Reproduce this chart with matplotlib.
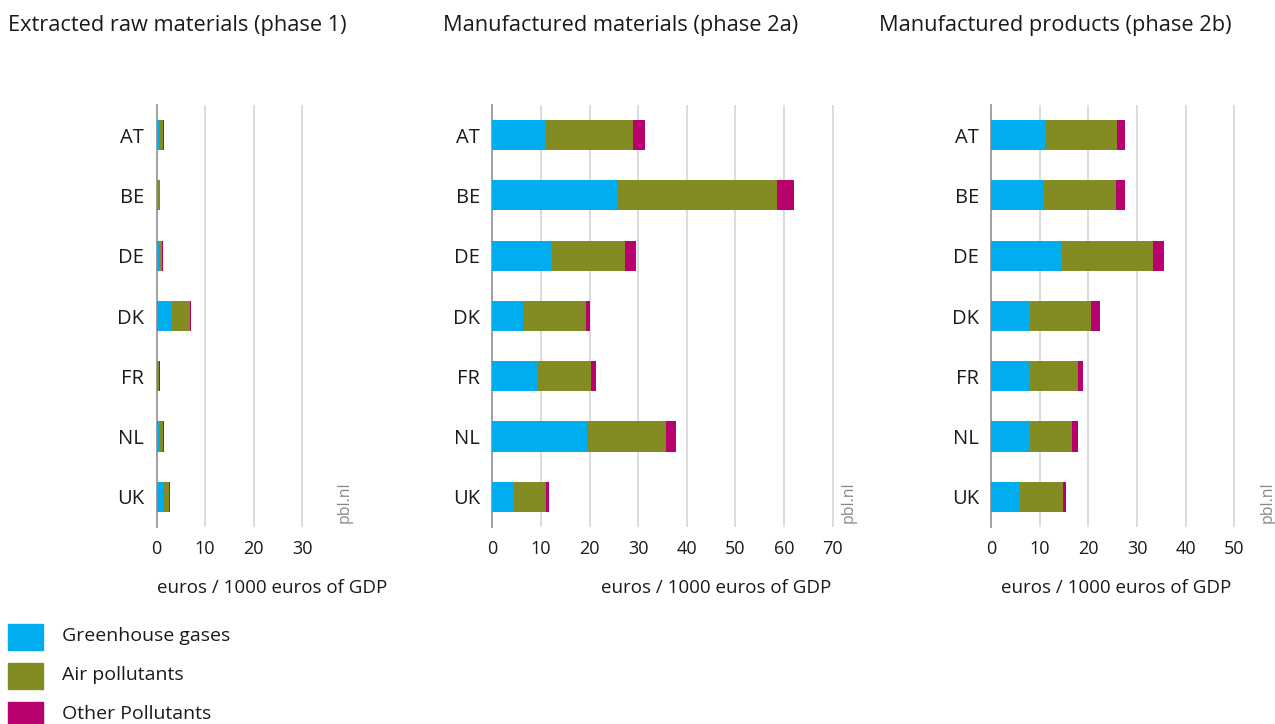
import numpy as np
import matplotlib.pyplot as plt
from matplotlib.patches import Rectangle

plt.rcParams['font.family'] = ['Open Sans', 'DejaVu Sans']

landen = ['AT', 'BE', 'DE', 'DK', 'FR', 'NL', 'UK']

# fase 1: gewonnen grondstoffen
ghg_1 = [0.7, 0.25, 0.75, 3.1, 0.3, 0.75, 1.25]
lucht_1 = [0.55, 0.4, 0.45, 3.7, 0.25, 0.5, 1.3]
overig_1 = [0.25, 0.15, 0.15, 0.2, 0.1, 0.2, 0.2]

# fase 2a: vervaardigde materialen
ghg_2a = [11.0, 25.7, 12.2, 6.4, 9.2, 19.5, 4.5]
lucht_2a = [18.0, 32.8, 15.2, 12.8, 11.1, 16.2, 6.5]
overig_2a = [2.4, 3.6, 2.1, 0.9, 1.1, 2.2, 0.6]

# fase 2b: vervaardigde producten
ghg_2b = [11.1, 10.8, 14.4, 7.9, 7.8, 7.9, 5.9]
lucht_2b = [14.7, 14.8, 18.8, 12.6, 10.0, 8.7, 8.8]
overig_2b = [1.8, 2.0, 2.3, 1.8, 1.0, 1.3, 0.7]

titels = ['Extracted raw materials (phase 1)',
          'Manufactured materials (phase 2a)',
          'Manufactured products (phase 2b)']
ticks = [[0, 10, 20, 30], [0, 10, 20, 30, 40, 50, 60, 70], [0, 10, 20, 30, 40, 50]]
xmax = [40, 74.5, 58]
links = [156.5, 492.3, 991.3]
titel_x = [8, 443, 879]
label_x = [157, 601, 1001]

namen = ['Greenhouse gases', 'Air pollutants', 'Other Pollutants']
blauw = '#00aeef'
groen = '#838b23'
paars = '#b8006e'
kleuren = [blauw, groen, paars]

W, H = 1275, 724
schaal = 4.86  # pixels per eenheid
fig = plt.figure(figsize=(W / 100, H / 100), dpi=100)

data = [(ghg_1, lucht_1, overig_1), (ghg_2a, lucht_2a, overig_2a), (ghg_2b, lucht_2b, overig_2b)]
y = np.arange(len(landen))

for i in range(3):
    top, bodem = 105, 527
    breedte = xmax[i] * schaal
    ax = fig.add_axes([links[i] / W, 1 - bodem / H, breedte / W, (bodem - top) / H])
    g, l, o = [np.array(d) for d in data[i]]
    ax.barh(y, g, height=0.5, color=blauw, zorder=3)
    ax.barh(y, l, left=g, height=0.5, color=groen, zorder=3)
    ax.barh(y, o, left=g + l, height=0.5, color=paars, zorder=3)
    ax.set_xlim(0, xmax[i])
    ax.set_ylim(len(landen) - 0.5, -0.5)
    ax.set_yticks(y)
    ax.set_yticklabels(landen, fontsize=14.5)
    ax.set_xticks(ticks[i])
    ax.set_xticklabels([str(t) for t in ticks[i]], fontsize=13)
    for t in ticks[i][1:]:
        ax.axvline(t, color='#d9d9d9', lw=1.3, zorder=1)
    for s in ['top', 'right', 'bottom']:
        ax.spines[s].set_visible(False)
    ax.spines['left'].set_color('#999999')
    ax.spines['left'].set_linewidth(1.3)
    ax.tick_params(axis='both', length=0, pad=9, colors='#1a1a1a')
    ax.tick_params(axis='y', pad=9)
    ax.text(1 - 6 / breedte, 0.01, 'pbl.nl', transform=ax.transAxes, rotation=90,
            ha='center', va='bottom', fontsize=11.5, color='#888888')
    fig.text(titel_x[i] / W, 1 - 25 / H, titels[i], fontsize=15.7, va='center', ha='left',
             color='#1a1a1a')
    fig.text(label_x[i] / W, 1 - 588 / H, 'euros / 1000 euros of GDP', fontsize=13.5,
             va='center', ha='left', color='#1a1a1a')

# legenda
for k in range(3):
    y0 = 624 + 39 * k
    fig.add_artist(Rectangle((8 / W, 1 - (y0 + 26) / H), 35 / W, 26 / H,
                             transform=fig.transFigure, color=kleuren[k]))
    fig.text(62 / W, 1 - (y0 + 12) / H, namen[k], fontsize=14, va='center', ha='left',
             color='#1a1a1a')

fig.savefig('out.png', dpi=100)
